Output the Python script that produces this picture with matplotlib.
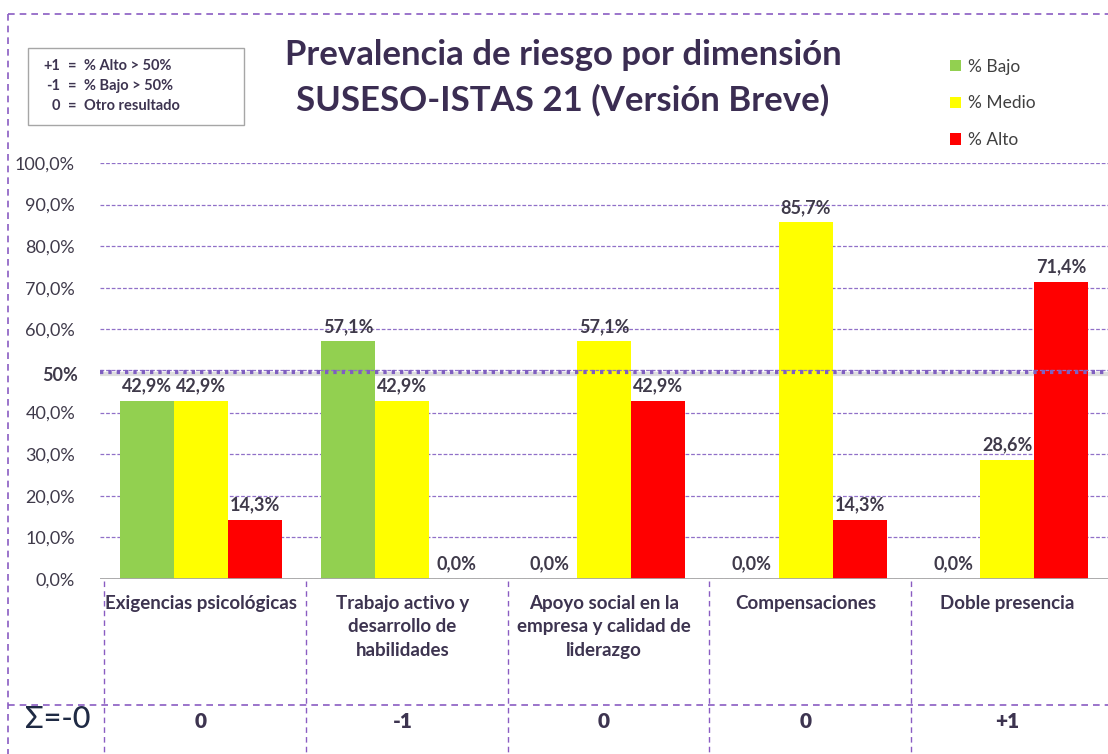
import matplotlib
matplotlib.use("Agg")
import matplotlib.pyplot as plt
from matplotlib.lines import Line2D
from matplotlib.patches import Rectangle, Patch
import matplotlib.transforms as mtransforms

plt.rcParams['font.family'] = ['Lato', 'DejaVu Sans']

categories = ["Exigencias psicológicas", "Trabajo activo y\ndesarrollo de\nhabilidades",
              "Apoyo social en la\nempresa y calidad de\nliderazgo", "Compensaciones", "Doble presencia"]
bajo = [42.9, 57.1, 0.0, 0.0, 0.0]
medio = [42.9, 42.9, 57.1, 85.7, 28.6]
alto = [14.3, 0.0, 42.9, 14.3, 71.4]
scores = ["0", "-1", "0", "0", "+1"]
sum_label = "Σ=-0"
series_names = ["% Bajo", "% Medio", "% Alto"]
colors = ["#92d050", "#ffff00", "#ff0000"]
yticks = [0, 10, 20, 30, 40, 60, 70, 80, 90, 100]
threshold = 50

W, H = 1108, 754
fig = plt.figure(figsize=(W / 100, H / 100), dpi=100)
fig.patch.set_facecolor("white")

def fx(x):
    return x / W

def fy(y):
    return 1 - y / H

txt = "#3d3450"
lab_c = "#3f3a4a"
grid_c = "#9070c8"
border_c = "#8a5cc2"

ax = fig.add_axes([fx(100), fy(579), fx(1108) - fx(100), fy(163) - fy(579)])
ax.set_xlim(-0.5, 4.5)
ax.set_ylim(0, 100)
for s in ax.spines.values():
    s.set_visible(False)
ax.set_xticks([])
ax.set_yticks(yticks)
ax.set_yticklabels([f"{v:.1f}%".replace(".", ",") for v in yticks], fontsize=13, color=lab_c)
ax.tick_params(axis="y", length=0, pad=18)

for v in yticks:
    ax.axhline(v, color=grid_c, lw=0.9, ls=(0, (3, 1.5)), zorder=0)
ax.axhline(0, color="#a6a6a6", lw=1.3, zorder=3)

bw = 0.268
xs = range(len(categories))
for i, (vals, c) in enumerate(zip([bajo, medio, alto], colors)):
    off = (i - 1) * bw
    for x, v in zip(xs, vals):
        ax.bar(x + off, v, bw, color=c, zorder=2, linewidth=0)
        ax.text(x + off, v + 1.6, f"{v:.1f}%".replace(".", ","), ha="center", va="bottom",
                fontsize=13, fontweight="bold", color=lab_c, zorder=4)

# threshold line with shadow
ax.axhline(threshold - 0.7, color="#c8c8c8", lw=3, alpha=0.6, zorder=1)
ax.axhline(threshold + 0.2, color=grid_c, lw=0.9, ls=(0, (3, 1.5)), zorder=3)
ax.axhline(threshold - 0.2, color="#7f5fc0", lw=3, ls=(0, (0.8, 1.2)), zorder=3)
ax.text(-0.5, threshold - 1, "50%", transform=mtransforms.blended_transform_factory(
    mtransforms.offset_copy(ax.transData, fig=fig, x=-22, y=0, units="dots"), ax.transData),
    ha="right", va="center", fontsize=13, fontweight="bold", color=lab_c)

# category labels and score row
trans = mtransforms.blended_transform_factory(ax.transData, fig.transFigure)
for x, lab, sc in zip(xs, categories, scores):
    ax.text(x, fy(595), lab, transform=trans, ha="center", va="top", fontsize=13.5,
            fontweight="bold", color=txt, linespacing=1.45)
    ax.text(x, fy(722), sc, transform=trans, ha="center", va="center", fontsize=15,
            fontweight="heavy", color=txt)
for b in [-0.5, 0.5, 1.5, 2.5, 3.5]:
    fig.add_artist(Line2D([ax.transData.transform((b, 0))[0] / W + 0.004] * 2, [fy(581), fy(754)],
                          color=border_c, lw=1, ls=(0, (4, 3))))

fig.text(fx(58), fy(719), sum_label, ha="center", va="center", fontsize=22, fontweight="medium",
         color="#1f2a44")

# outer dashed frame
fig.add_artist(Line2D([fx(8), fx(1108)], [fy(14), fy(14)], color=border_c, lw=1.2, ls=(0, (4, 3))))
fig.add_artist(Line2D([fx(8), fx(8)], [fy(14), fy(754)], color=border_c, lw=1.2, ls=(0, (4, 3))))
fig.add_artist(Line2D([fx(8), fx(1108)], [fy(705), fy(705)], color=border_c, lw=1.2, ls=(0, (4, 3))))

# title
fig.text(fx(563), fy(55), "Prevalencia de riesgo por dimensión", ha="center", va="center",
         fontsize=25, fontweight="bold", color="#3b2d52")
fig.text(fx(563), fy(100), "SUSESO-ISTAS 21 (Versión Breve)", ha="center", va="center",
         fontsize=25, fontweight="bold", color="#3b2d52")

# key box
fig.add_artist(Rectangle((fx(28), fy(125)), fx(244) - fx(28), fy(48) - fy(125),
                         transform=fig.transFigure, fill=False, edgecolor="#a6a6a6", lw=1))
key = [("+1", "% Alto > 50%", 66), ("-1", "% Bajo > 50%", 86), ("0", "Otro resultado", 106)]
for a, b, y in key:
    fig.text(fx(60), fy(y), a, ha="right", va="center", fontsize=10.5, fontweight="bold", color=txt)
    fig.text(fx(72), fy(y), "=", ha="center", va="center", fontsize=10.5, fontweight="bold", color=txt)
    fig.text(fx(84), fy(y), b, ha="left", va="center", fontsize=10.5, fontweight="bold", color=txt)

# legend
handles = [Patch(facecolor=c, edgecolor="none", label=n) for c, n in zip(colors, series_names)]
fig.legend(handles=handles, loc="upper left", bbox_to_anchor=(fx(934), fy(43)), frameon=False,
           fontsize=12.5, handlelength=0.65, handleheight=0.65, handletextpad=0.4, labelspacing=1.2,
           labelcolor="#404040")

fig.savefig("out.png", dpi=100)
